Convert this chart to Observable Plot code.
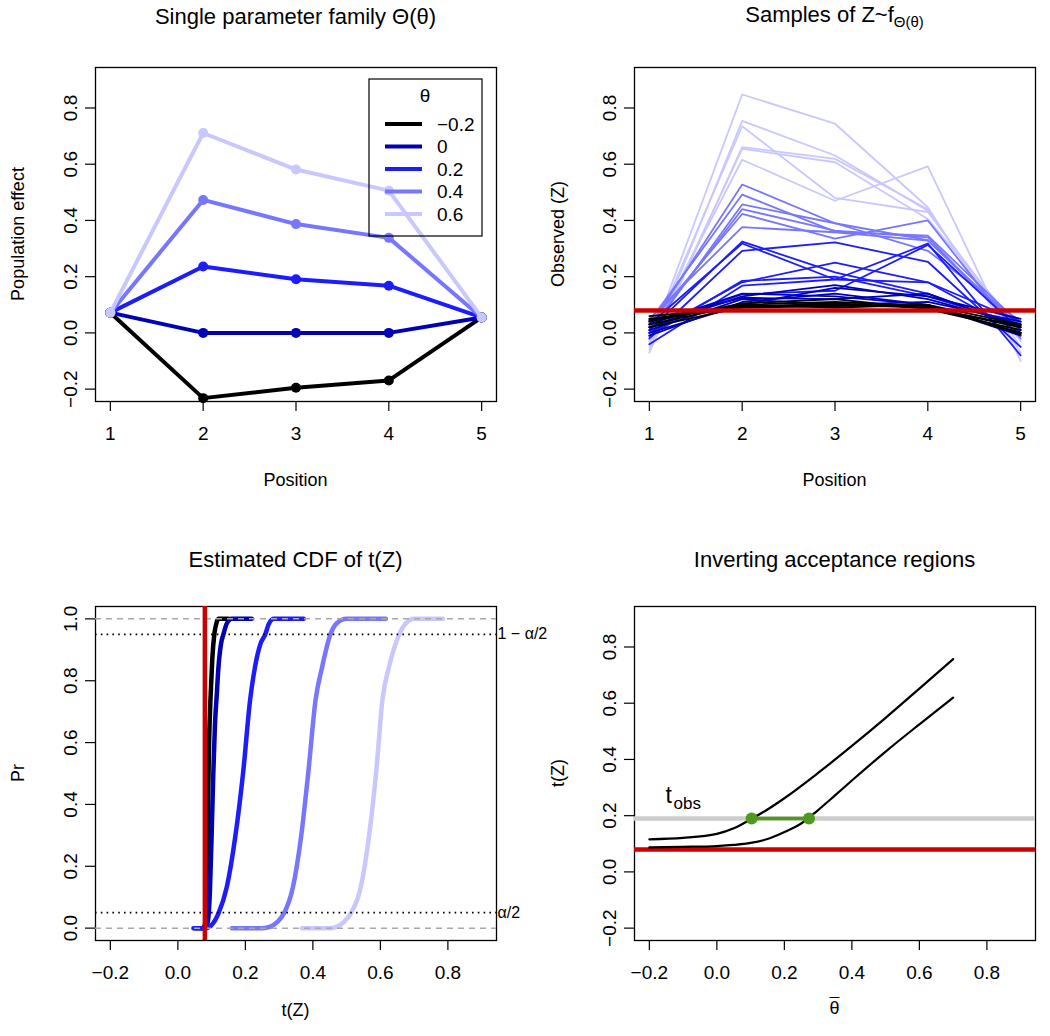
<!DOCTYPE html>
<html><head><meta charset="utf-8">
<script src="https://cdn.jsdelivr.net/npm/d3@7"></script>
<script src="https://cdn.jsdelivr.net/npm/@observablehq/plot@0.6"></script>
<style>
body{margin:0;background:#fff;font-family:"Liberation Sans",Arial,sans-serif;}
#root{position:relative;width:1050px;height:1036px;overflow:hidden;background:#fff;}
#root svg.pl{position:absolute;}
.lbl{position:absolute;white-space:nowrap;color:#000;line-height:1;}
</style></head><body><div id="root"></div>
<script>
// ---------------- data ----------------
const positions = [1, 2, 3, 4, 5];
const thetas = [-0.2, 0, 0.2, 0.4, 0.6];
const thetaLabels = ["\u22120.2", "0", "0.2", "0.4", "0.6"];
const thetaColors = ["#000000", "#0000B4", "#1C1CFF", "#7676FF", "#C8C8FF"];
const effectTicks = [-0.2, 0, 0.2, 0.4, 0.6, 0.8];
const probTicks = [0, 0.2, 0.4, 0.6, 0.8, 1.0];

// population effect for each theta at positions 1..5
const popEffect = [
  [0.072, -0.232, -0.195, -0.169, 0.055],
  [0.072, 0.000, 0.000, 0.000, 0.055],
  [0.072, 0.236, 0.191, 0.168, 0.055],
  [0.072, 0.473, 0.387, 0.338, 0.055],
  [0.072, 0.711, 0.581, 0.506, 0.055]
];

// sampled observations Z (one row per sample, positions 1..5)
const samplesNeg02 = [
  [0.050, 0.095, 0.100, 0.090, 0.020],
  [0.030, 0.100, 0.110, 0.095, 0.000],
  [0.060, 0.090, 0.095, 0.100, 0.030],
  [0.040, 0.105, 0.120, 0.085, 0.010],
  [0.020, 0.092, 0.105, 0.090, 0.025],
  [0.045, 0.100, 0.090, 0.100, -0.005]
];
const samples0 = [
  [0.020, 0.130, 0.170, 0.120, 0.030],
  [-0.010, 0.110, 0.140, 0.100, 0.000],
  [0.040, 0.125, 0.120, 0.140, 0.020],
  [0.000, 0.100, 0.160, 0.130, 0.050],
  [0.030, 0.140, 0.130, 0.100, -0.010],
  [0.010, 0.120, 0.100, 0.110, 0.040]
];
const samples02 = [
  [0.010, 0.325, 0.215, 0.140, 0.020],
  [-0.020, 0.292, 0.322, 0.253, -0.050],
  [0.030, 0.318, 0.190, 0.180, 0.040],
  [0.000, 0.180, 0.250, 0.180, 0.000],
  [-0.040, 0.168, 0.190, 0.318, -0.080],
  [0.020, 0.138, 0.150, 0.313, 0.010],
  [-0.010, 0.185, 0.200, 0.130, 0.030]
];
const samples04 = [
  [0.020, 0.528, 0.390, 0.330, 0.010],
  [0.040, 0.492, 0.360, 0.346, 0.030],
  [0.000, 0.457, 0.390, 0.292, 0.040],
  [0.030, 0.423, 0.335, 0.400, -0.020],
  [0.050, 0.376, 0.358, 0.328, 0.020],
  [0.010, 0.440, 0.364, 0.340, 0.000]
];
const samples06 = [
  [-0.040, 0.848, 0.744, 0.447, -0.070],
  [-0.060, 0.754, 0.631, 0.435, -0.030],
  [-0.030, 0.735, 0.480, 0.430, -0.010],
  [-0.070, 0.661, 0.619, 0.440, -0.050],
  [-0.020, 0.616, 0.470, 0.592, -0.100],
  [-0.050, 0.655, 0.607, 0.405, 0.010]
];
const samplesByTheta = [samplesNeg02, samples0, samples02, samples04, samples06];

const tRed = 0.08;        // red reference statistic
const tObs = 0.19;        // observed statistic
const alphaLow = 0.05, alphaHigh = 0.95;
const ciBounds = [0.103, 0.273];
const tObsLabelAt = {x: -0.152, y: 0.245};

// estimated CDFs of t(Z): [t, Pr]
const cdfNeg02 = [[0.072,0],[0.078,0.005],[0.082,0.02],[0.085,0.08],[0.088,0.25],[0.090,0.45],[0.093,0.62],[0.097,0.75],[0.102,0.87],[0.108,0.95],[0.114,0.985],[0.120,1],[0.135,1],[0.150,1]];
const cdf0 = [[0.050,0],[0.075,0],[0.085,0.005],[0.090,0.03],[0.095,0.12],[0.100,0.30],[0.105,0.50],[0.110,0.66],[0.115,0.75],[0.120,0.84],[0.128,0.92],[0.135,0.95],[0.145,0.985],[0.160,1],[0.190,1],[0.219,1]];
const cdf02 = [[0.046,0],[0.085,0],[0.100,0.01],[0.120,0.047],[0.145,0.133],[0.170,0.295],[0.194,0.51],[0.214,0.738],[0.229,0.847],[0.245,0.92],[0.259,0.95],[0.270,0.985],[0.285,1],[0.373,1]];
const cdf04 = [[0.160,0],[0.250,0],[0.274,0.005],[0.295,0.02],[0.314,0.047],[0.341,0.133],[0.365,0.295],[0.387,0.51],[0.408,0.738],[0.428,0.847],[0.452,0.95],[0.470,0.985],[0.500,1],[0.616,1]];
const cdf06 = [[0.368,0],[0.450,0],[0.472,0.005],[0.492,0.02],[0.512,0.047],[0.542,0.133],[0.566,0.295],[0.588,0.51],[0.606,0.738],[0.626,0.847],[0.656,0.95],[0.675,0.985],[0.700,1],[0.785,1]];
const cdfByTheta = [cdfNeg02, cdf0, cdf02, cdf04, cdf06];

// acceptance region boundaries: [theta-bar, t]
const acceptUpper = [[-0.2,0.116],[-0.1,0.121],[0,0.135],[0.05,0.155],[0.1,0.187],[0.15,0.222],[0.2,0.262],[0.3,0.352],[0.4,0.448],[0.5,0.548],[0.6,0.652],[0.7,0.757]];
const acceptLower = [[-0.2,0.087],[-0.1,0.089],[0,0.092],[0.05,0.096],[0.1,0.103],[0.15,0.117],[0.2,0.142],[0.25,0.172],[0.3,0.220],[0.35,0.272],[0.4,0.325],[0.5,0.428],[0.6,0.525],[0.7,0.620]];

// ---------------- helpers ----------------
const root = document.getElementById("root");
const FONT = "Liberation Sans, Arial, sans-serif";
const fmt1 = d => (d < 0 ? "\u2212" : "") + Math.abs(d).toFixed(1);
const RED = "#CC0000";
const styleBase = {fontFamily: FONT, fontSize: "19px", background: "transparent", overflow: "visible", color: "#000"};

function place(svg, left, top) {
  svg.classList.add("pl");
  svg.style.left = left + "px";
  svg.style.top = top + "px";
  root.appendChild(svg);
}
function label(html, cx, cy, size, rotate = false) {
  const d = document.createElement("div");
  d.className = "lbl";
  d.innerHTML = html;
  d.style.left = cx + "px";
  d.style.top = cy + "px";
  d.style.fontSize = size + "px";
  d.style.transform = "translate(-50%,-50%)" + (rotate ? " rotate(-90deg)" : "");
  root.appendChild(d);
}
const axX = (ticks, f) => Plot.axisX({ticks, tickSize: 10, tickPadding: 15, tickFormat: f, label: null, strokeWidth: 1.2, fontSize: 19});
const axY = (ticks, f) => Plot.axisY({ticks, tickSize: 10, tickPadding: 9, tickRotate: -90, tickFormat: f, label: null, strokeWidth: 1.2, fontSize: 19});

// ---------------- panel 1 ----------------
const effRows = popEffect.map((vals, i) => vals.map((v, j) => ({pos: positions[j], value: v, theta: thetas[i]})));
const p1marks = [Plot.frame({strokeWidth: 1.3}), axX(positions, d => String(d)), axY(effectTicks, fmt1)];
effRows.forEach((rows, i) => {
  p1marks.push(Plot.line(rows, {x: "pos", y: "value", stroke: thetaColors[i], strokeWidth: 4}));
  p1marks.push(Plot.dot(rows, {x: "pos", y: "value", fill: thetaColors[i], r: 5}));
});
place(Plot.plot({
  width: 525, height: 520, marginLeft: 95, marginRight: 29, marginTop: 67, marginBottom: 119,
  style: styleBase,
  x: {domain: [0.84, 5.16]}, y: {domain: [-0.244, 0.944]},
  marks: p1marks
}), 0, 0);

// legend for panel 1
(function () {
  const svg = d3.create("svg").attr("width", 116).attr("height", 160)
    .style("position", "absolute").style("left", "368px").style("top", "78px").style("overflow", "visible");
  svg.append("rect").attr("x", 1).attr("y", 1).attr("width", 113).attr("height", 157)
    .attr("fill", "none").attr("stroke", "#000").attr("stroke-width", 1.2);
  svg.append("text").attr("x", 57).attr("y", 24).attr("text-anchor", "middle")
    .attr("font-family", FONT).attr("font-size", 19).text("\u03b8");
  thetaLabels.forEach((t, i) => {
    const y = 46 + i * 22.5;
    svg.append("line").attr("x1", 17).attr("x2", 54).attr("y1", y).attr("y2", y)
      .attr("stroke", thetaColors[i]).attr("stroke-width", 4);
    svg.append("text").attr("x", 69).attr("y", y + 6.5).attr("font-family", FONT).attr("font-size", 19).text(t);
  });
  root.appendChild(svg.node());
})();

// ---------------- panel 2 ----------------
const p2marks = [Plot.frame({strokeWidth: 1.3}), axX(positions, d => String(d)), axY(effectTicks, fmt1)];
for (let gi = samplesByTheta.length - 1; gi >= 0; gi--) {
  const rows = [];
  samplesByTheta[gi].forEach((vals, si) => vals.forEach((v, j) => rows.push({pos: positions[j], value: v, id: si})));
  p2marks.push(Plot.line(rows, {x: "pos", y: "value", z: "id", stroke: thetaColors[gi], strokeWidth: 1.8}));
}
p2marks.push(Plot.ruleY([tRed], {stroke: RED, strokeWidth: 4.5}));
place(Plot.plot({
  width: 525, height: 520, marginLeft: 109, marginRight: 15, marginTop: 67, marginBottom: 119,
  style: styleBase,
  x: {domain: [0.84, 5.16]}, y: {domain: [-0.244, 0.944]},
  marks: p2marks
}), 525, 0);

// ---------------- panel 3 ----------------
const p3marks = [Plot.frame({strokeWidth: 1.3}), axX(effectTicks, fmt1), axY(probTicks, fmt1)];
cdfByTheta.forEach((pts, i) => {
  p3marks.push(Plot.line(pts, {x: d => d[0], y: d => d[1], stroke: thetaColors[i], strokeWidth: 4.5, curve: "monotone-x"}));
});
p3marks.push(Plot.ruleY([0, 1], {stroke: "#A8A8A8", strokeWidth: 1.5, strokeDasharray: "6,5"}));
p3marks.push(Plot.ruleY([alphaLow, alphaHigh], {stroke: "#000", strokeWidth: 1.6, strokeDasharray: "1.6,4.2"}));
p3marks.push(Plot.ruleX([tRed], {stroke: RED, strokeWidth: 4.5}));
p3marks.push(Plot.text([alphaHigh], {y: d => d, text: () => "1 \u2212 \u03b1/2", frameAnchor: "right", textAnchor: "start", dx: 1, fontSize: 16}));
p3marks.push(Plot.text([alphaLow], {y: d => d, text: () => "\u03b1/2", frameAnchor: "right", textAnchor: "start", dx: 1, fontSize: 16}));
place(Plot.plot({
  width: 525, height: 516, marginLeft: 95, marginRight: 29, marginTop: 86, marginBottom: 96,
  style: styleBase,
  x: {domain: [-0.244, 0.944]}, y: {domain: [-0.04, 1.04]},
  marks: p3marks
}), 0, 520);

// ---------------- panel 4 ----------------
const p4marks = [
  Plot.frame({strokeWidth: 1.3}), axX(effectTicks, fmt1), axY(effectTicks, fmt1),
  Plot.ruleY([tObs], {stroke: "#CCCCCC", strokeWidth: 4.5}),
  Plot.ruleY([tRed], {stroke: RED, strokeWidth: 4.5}),
  Plot.line(acceptUpper, {x: d => d[0], y: d => d[1], stroke: "#000", strokeWidth: 2.2, curve: "monotone-x"}),
  Plot.line(acceptLower, {x: d => d[0], y: d => d[1], stroke: "#000", strokeWidth: 2.2, curve: "monotone-x"}),
  Plot.line(ciBounds, {x: d => d, y: () => tObs, stroke: "#4E9A1E", strokeWidth: 3.5}),
  Plot.dot(ciBounds, {x: d => d, y: () => tObs, fill: "#4E9A1E", r: 6}),
  Plot.text([tObsLabelAt], {x: "x", y: "y", text: () => "t", fontSize: 23, textAnchor: "start", lineAnchor: "bottom"}),
  Plot.text([tObsLabelAt], {x: "x", y: "y", text: () => "obs", fontSize: 17, textAnchor: "start", lineAnchor: "bottom", dx: 8, dy: 6})
];
place(Plot.plot({
  width: 525, height: 516, marginLeft: 109, marginRight: 15, marginTop: 86, marginBottom: 96,
  style: styleBase,
  x: {domain: [-0.244, 0.944]}, y: {domain: [-0.244, 0.944]},
  marks: p4marks
}), 525, 520);

// ---------------- titles & axis labels ----------------
label("Single parameter family \u0398(\u03b8)", 295.5, 17, 22);
label("Samples of Z~f<sub style='font-size:0.68em;vertical-align:-0.3em'>\u0398(\u03b8)</sub>", 834.5, 17, 22);
label("Estimated CDF of t(Z)", 295.5, 560, 22);
label("Inverting acceptance regions", 834.5, 560, 22);
label("Position", 295.5, 480, 18);
label("Position", 834.5, 480, 18);
label("t(Z)", 295.5, 1010, 18);
label("<span style='text-decoration:overline'>\u03b8</span>", 834.5, 1008, 18);
label("Population effect", 18, 234, 18, true);
label("Observed (Z)", 558, 234, 18, true);
label("Pr", 18, 773, 18, true);
label("t(Z)", 558, 773, 18, true);
</script>
</body></html>
